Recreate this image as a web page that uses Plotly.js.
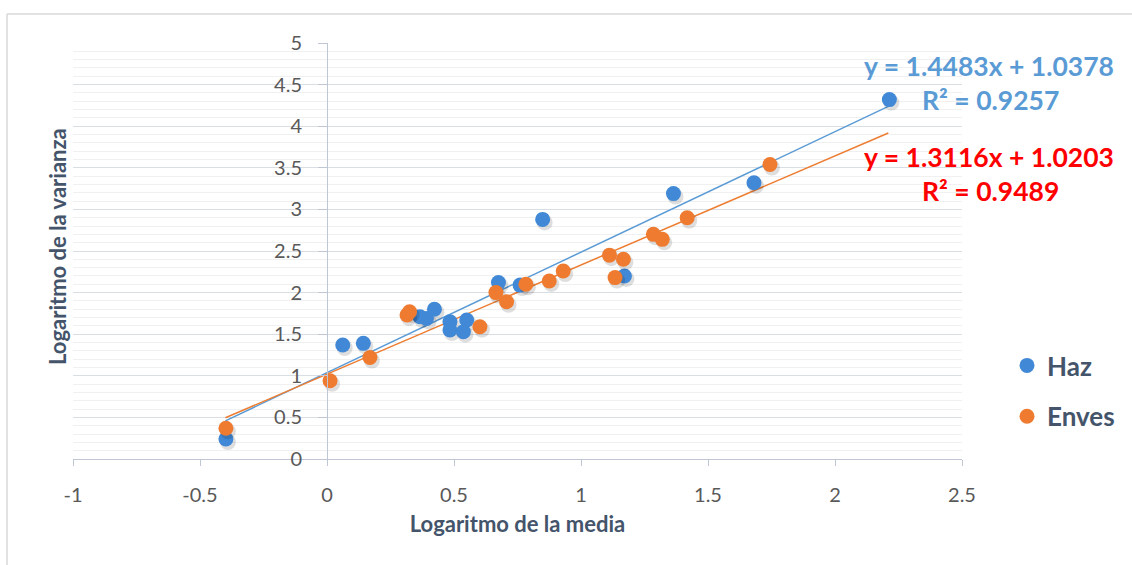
<!DOCTYPE html>
<html>
<head>
<meta charset="utf-8">
<script src="https://cdn.plot.ly/plotly-3.0.1.min.js"></script>
<style>html,body{margin:0;padding:0;background:#fff;}#chart{width:1132px;height:565px;}</style>
</head>
<body>
<div id="chart"></div>
<script>
// ---- Data ----
const hazX = [-0.398, 0.062, 0.143, 0.366, 0.392, 0.423, 0.484, 0.484, 0.537, 0.550, 0.675, 0.760, 0.849, 1.171, 1.364, 1.681, 2.214];
const hazY = [0.24, 1.37, 1.39, 1.71, 1.69, 1.80, 1.65, 1.55, 1.53, 1.67, 2.12, 2.09, 2.88, 2.20, 3.19, 3.32, 4.32];
const envesX = [-0.398, 0.012, 0.169, 0.315, 0.325, 0.602, 0.665, 0.707, 0.783, 0.875, 0.930, 1.112, 1.134, 1.167, 1.285, 1.320, 1.418, 1.744];
const envesY = [0.37, 0.94, 1.22, 1.73, 1.77, 1.59, 2.00, 1.89, 2.10, 2.14, 2.26, 2.45, 2.18, 2.40, 2.70, 2.64, 2.90, 3.54];
const hazFit = {slope: 1.4483, intercept: 1.0378, r2: 0.9257};
const envesFit = {slope: 1.3116, intercept: 1.0203, r2: 0.9489};
const trendRange = [-0.4, 2.21];
const seriesNames = ["Haz", "Enves"];
const xTicks = [-1, -0.5, 0, 0.5, 1, 1.5, 2, 2.5];
const yTicks = [0, 0.5, 1, 1.5, 2, 2.5, 3, 3.5, 4, 4.5, 5];

const blue = "#4189d6", orange = "#ee7b30";
const FONT = "Lato, 'Liberation Sans', Arial, sans-serif";
const fitLine = f => trendRange.map(x => f.slope * x + f.intercept);
// soft drop shadow, offset a few pixels down-right (styling only)
const sdx = 2 / 254, sdy = 3 / 83.2;
const shadow = (xs, ys) => ({x: xs.map(v => v + sdx), y: ys.map(v => v - sdy), mode: "markers", showlegend: false,
  hoverinfo: "skip", marker: {color: "rgba(0,0,0,0.13)", size: 16}});

const traces = [
  {x: trendRange, y: fitLine(hazFit), mode: "lines", line: {color: "#5b9bd5", width: 1.5}, showlegend: false, hoverinfo: "skip"},
  {x: trendRange, y: fitLine(envesFit), mode: "lines", line: {color: "#ed7d31", width: 1.5}, showlegend: false, hoverinfo: "skip"},
  shadow(hazX, hazY),
  {x: hazX, y: hazY, mode: "markers", name: seriesNames[0], legendgroup: "a",
   marker: {color: blue, size: 15}},
  shadow(envesX, envesY),
  {x: envesX, y: envesY, mode: "markers", name: seriesNames[1], legendgroup: "b",
   marker: {color: orange, size: 15}}
];

const L = 73, R = 962, T = 43, B = 459;
const px = v => (v - L) / (R - L);
const py = v => (B - v) / (B - T);
const eqFont = c => ({family: FONT, size: 26.5, color: c, weight: "bold"});
const titleFont = {family: FONT, size: 22, color: "#44546a", weight: "bold"};

const layout = {
  width: 1132, height: 565,
  margin: {l: L, r: 1132 - R, t: T, b: 565 - B},
  paper_bgcolor: "#fff", plot_bgcolor: "#fff",
  showlegend: true,
  legend: {x: px(1007), y: py(342), xanchor: "left", yanchor: "top", tracegroupgap: 14,
           font: {family: FONT, size: 26, color: "#44546a", weight: "bold"},
           bgcolor: "rgba(0,0,0,0)"},
  xaxis: {range: [-1, 2.5], tickvals: xTicks, ticktext: xTicks.map(String), showgrid: false, zeroline: false,
          showline: true, linecolor: "#bfc7d5", linewidth: 1, ticks: "outside", ticklen: 6, tickcolor: "#bfc7d5",
          ticklabelstandoff: 12,
          tickfont: {family: FONT, size: 20, color: "#595959"},
          title: {text: "Logaritmo de la media", standoff: 11, font: titleFont}},
  yaxis: {range: [0, 5], tickvals: yTicks, ticktext: yTicks.map(String), anchor: "free", position: 1 / 3.5,
          showgrid: true, gridcolor: "#d9dde4", gridwidth: 1, zeroline: false,
          minor: {dtick: 0.1, showgrid: true, gridcolor: "#f0f0f0", gridwidth: 1},
          showline: true, linecolor: "#bfc7d5", linewidth: 1, ticks: "outside", ticklen: 9, tickcolor: "#bfc7d5",
          ticklabelstandoff: 12,
          tickfont: {family: FONT, size: 20, color: "#595959"},
          title: {text: ""}},
  annotations: [
    {xref: "paper", yref: "paper", x: px(1116), y: py(66), xanchor: "right", yanchor: "middle", showarrow: false,
     text: `y = ${hazFit.slope}x + ${hazFit.intercept}`, font: eqFont("#5b9bd5")},
    {xref: "paper", yref: "paper", x: px(990), y: py(100), xanchor: "center", yanchor: "middle", showarrow: false,
     text: `R² = ${hazFit.r2}`, font: eqFont("#5b9bd5")},
    {xref: "paper", yref: "paper", x: px(1116), y: py(157), xanchor: "right", yanchor: "middle", showarrow: false,
     text: `y = ${envesFit.slope}x + ${envesFit.intercept}`, font: eqFont("#ff0000")},
    {xref: "paper", yref: "paper", x: px(990), y: py(191), xanchor: "center", yanchor: "middle", showarrow: false,
     text: `R² = ${envesFit.r2}`, font: eqFont("#ff0000")},
    {xref: "paper", yref: "paper", x: px(57), y: py(247), xanchor: "center", yanchor: "middle", showarrow: false,
     textangle: -90, text: "Logaritmo de la varianza", font: titleFont}
  ],
  shapes: [
    {type: "line", xref: "paper", yref: "paper", x0: px(7), x1: px(7), y0: py(14), y1: py(570), line: {color: "#d9d9d9", width: 1.5}},
    {type: "line", xref: "paper", yref: "paper", x0: px(7), x1: px(1140), y0: py(14), y1: py(14), line: {color: "#d9d9d9", width: 1.5}}
  ]
};

Plotly.newPlot("chart", traces, layout, {displayModeBar: false, staticPlot: true});
</script>
</body>
</html>
